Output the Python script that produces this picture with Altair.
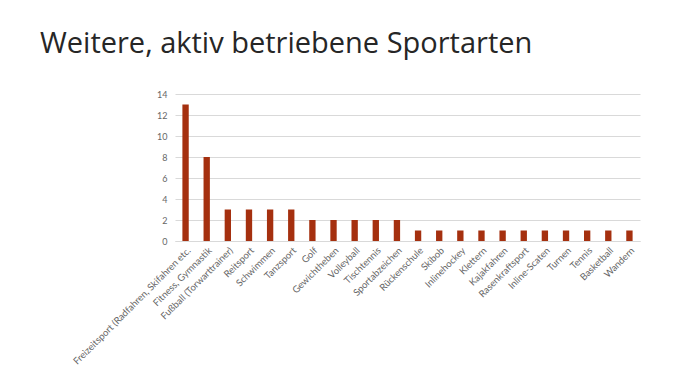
import altair as alt
import pandas as pd

categories = [
    "Freizeitsport (Radfahren, Skifahren etc.",
    "Fitness, Gymnastik",
    "Fußball (Torwarttrainer)",
    "Reitsport",
    "Schwimmen",
    "Tanzsport",
    "Golf",
    "Gewichtheben",
    "Volleyball",
    "Tischtennis",
    "Sportabzeichen",
    "Rückenschule",
    "Skibob",
    "Inlinehockey",
    "Klettern",
    "Kajakfahren",
    "Rasenkraftsport",
    "Inline-Scaten",
    "Turnen",
    "Tennis",
    "Basketball",
    "Wandern",
]
values = [13, 8, 3, 3, 3, 3, 2, 2, 2, 2, 2, 1, 1, 1, 1, 1, 1, 1, 1, 1, 1, 1]

df = pd.DataFrame({"Sportart": categories, "Anzahl": values})

chart = (
    alt.Chart(df)
    .mark_bar(color="#a5300f")
    .encode(
        x=alt.X(
            "Sportart:N",
            sort=categories,
            scale=alt.Scale(paddingInner=0.7, paddingOuter=0.35),
            axis=alt.Axis(
                title=None,
                labelAngle=-45,
                labelFont="Lato",
                labelFontSize=9.5,
                labelColor="#666666",
                ticks=False,
                domainColor="#d9d9d9",
                domainWidth=1,
                labelPadding=4,
            ),
        ),
        y=alt.Y(
            "Anzahl:Q",
            scale=alt.Scale(domain=[0, 14]),
            axis=alt.Axis(
                title=None,
                values=[0, 2, 4, 6, 8, 10, 12, 14],
                labelFont="Lato",
                labelFontSize=9,
                labelColor="#666666",
                ticks=False,
                domain=False,
                gridColor="#d9d9d9",
                labelPadding=8,
            ),
        ),
    )
    .properties(
        width=465,
        height=147,
        title=alt.TitleParams(
            "Weitere, aktiv betriebene Sportarten",
            anchor="start",
            frame="group",
            dx=-135,
            offset=31,
            font="Open Sans",
            fontSize=29,
            fontWeight="normal",
            color="#262626",
        ),
        autosize=alt.AutoSizeParams(type="none"),
        padding={"left": 167, "top": 86, "right": 52, "bottom": 131},
    )
    .configure_view(stroke=None)
)

chart.save("out.html", embed_options={"renderer": "svg", "actions": False})
